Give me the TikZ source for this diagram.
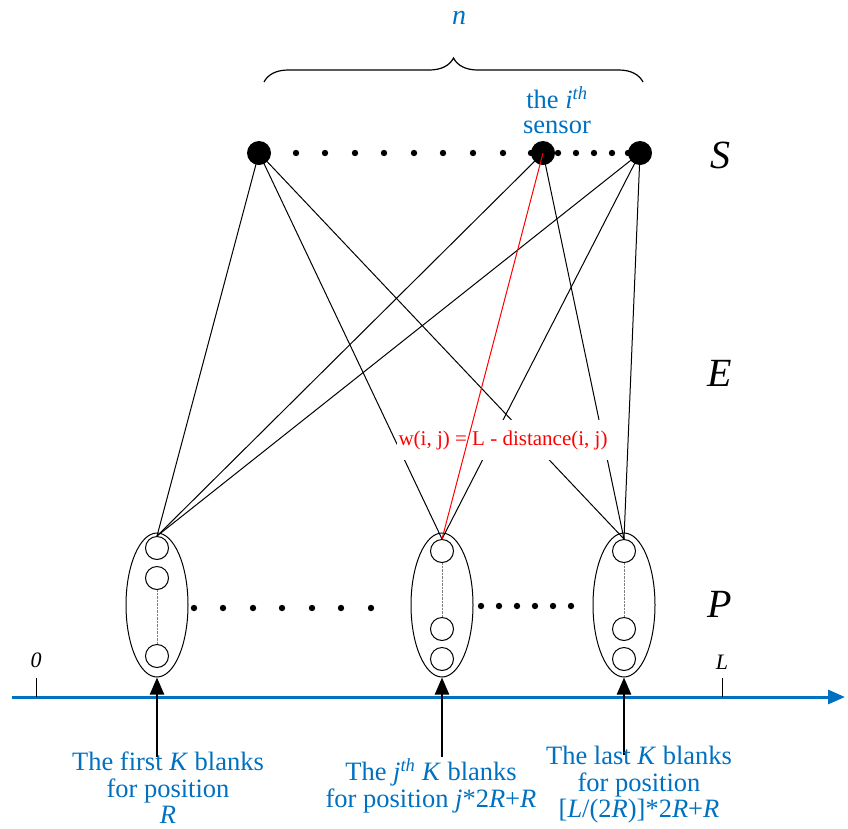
\documentclass[tikz,border=0pt]{standalone}
\usepackage{fontspec}
\setmainfont{Liberation Serif}
\usetikzlibrary{positioning,arrows.meta,decorations.pathreplacing,shapes.geometric}
\definecolor{azul}{RGB}{0,112,192}
\tikzset{
  sensor/.style={circle, fill=black, inner sep=0pt, minimum size=24pt},
  blank/.style={circle, draw, line width=1pt, inner sep=0pt, minimum size=23pt},
  grupo/.style={ellipse, draw, line width=1pt, inner sep=0pt, minimum width=62pt, minimum height=144pt},
  rotulo/.style={text=azul, align=center, inner sep=1pt, font=\fontsize{26.5}{26.5}\selectfont},
  camada/.style={font=\fontsize{40}{42}\selectfont\itshape},
  seta/.style={line width=2.2pt, -{Triangle[length=17pt,width=14pt]}},
  aresta/.style={line width=1pt},
}

\begin{document}
\begin{tikzpicture}[x=1pt, y=-1pt]
        \useasboundingbox (0,0) rectangle (848,828);

        % Sensores
        \node[sensor] (s1) at (259,153) {};
        \node[sensor] (si) at (543,153) {};
        \node[sensor] (sn) at (640,153) {};
        \foreach \x in {296,325,355,384,414,443,473,503,531}
            \fill (\x,153) circle (3.2pt);
        \foreach \x in {558,576,594,612,628}
            \fill (\x,153) circle (3.2pt);
        \node[rotulo] (isensor) at (557,110) {the \textit{i}\textsuperscript{\textit{th}}\\[-2pt]sensor};

        % Chave n
        \draw[line width=1.2pt, decorate, decoration={brace, amplitude=24pt}]
            (264,82) -- (643,82);
        \node[rotulo, font=\fontsize{28}{30}\selectfont\itshape] (n) at (459,18) {n};

        % Posicoes
        \node[grupo] (e1) at (157,605) {};
        \node[grupo] (e2) at (442,605) {};
        \node[grupo] (e3) at (624,605) {};
        \node[blank] (p1a) at (157,548) {};
        \node[blank] (p1b) at (157,578) {};
        \node[blank] (p1c) at (157,656) {};
        \node[blank] (p2a) at (442,551) {};
        \node[blank] (p2b) at (442,629) {};
        \node[blank] (p2c) at (442,659) {};
        \node[blank] (p3a) at (624,551) {};
        \node[blank] (p3b) at (624,629) {};
        \node[blank] (p3c) at (624,659) {};
        \draw[densely dotted, gray] (p1b) -- (p1c);
        \draw[densely dotted, gray] (p2a) -- (p2b);
        \draw[densely dotted, gray] (p3a) -- (p3b);
        \foreach \x in {194,223,253,282,312,341,371}
            \fill (\x,608) circle (3.2pt);
        \foreach \x in {481,499,517,535,553,571}
            \fill (\x,606) circle (3.2pt);

        % Arestas
        \foreach \s in {s1,si,sn}
            \foreach \p in {p1a,p3a}
                \draw[aresta] (\s.center) -- (\p.north);
        \draw[aresta] (s1.center) -- (p2a.north);
        \draw[aresta] (sn.center) -- (p2a.north);
        \node[fill=white, text=red, inner xsep=2pt, inner ysep=10pt, font=\fontsize{21}{22}\selectfont] (peso) at (503,440) {w(i, j) = L - distance(i, j)};
        \draw[aresta, red] (si.center) -- (p2a.north);

        % Camadas
        \node[camada] (S) at (720,155) {S};
        \node[camada] (E) at (720,373) {E};
        \node[camada] (P) at (720,604) {P};

        % Eixo
        \draw[azul, line width=3pt, -{Triangle[length=17pt,width=14pt]}] (12,697) -- (845,697);
        \draw[line width=1pt] (36,678) -- (36,697);
        \draw[line width=1pt] (722,678) -- (722,697);
        \node[font=\fontsize{22}{22}\selectfont\itshape] (zero) at (36,660) {0};
        \node[font=\fontsize{22}{22}\selectfont\itshape] (L) at (722,662) {L};

        % Setas e rotulos
        \coordinate (b1) at (157,757);
        \coordinate (b2) at (442,757);
        \coordinate (b3) at (624,755);
        \draw[seta] (b1) -- (e1.south);
        \draw[seta] (b2) -- (e2.south);
        \draw[seta] (b3) -- (e3.south);
        \node[rotulo] (t1) at (168,788) {The first \textit{K} blanks\\for position\\\textit{R}};
        \node[rotulo] (t2) at (431,786) {The \textit{j}\textsuperscript{\textit{th}} \textit{K} blanks\\for position \textit{j}*2\textit{R}+\textit{R}};
        \node[rotulo] (t3) at (639,785) {The last \textit{K} blanks\\for position\\{[}\textit{L}/(2\textit{R})]*2\textit{R}+\textit{R}};
    \end{tikzpicture}
\end{document}
